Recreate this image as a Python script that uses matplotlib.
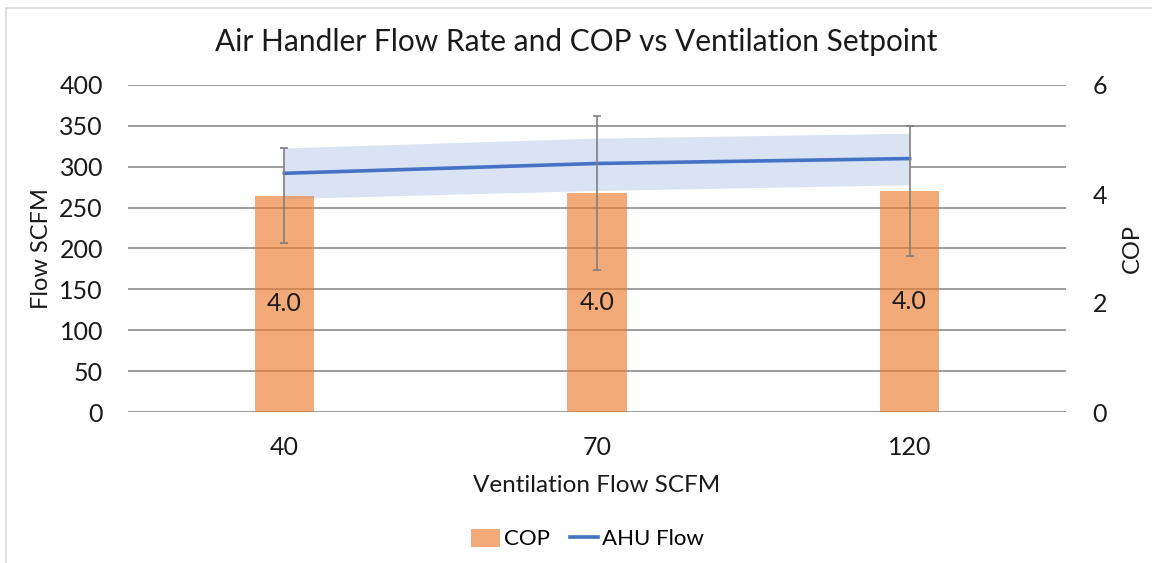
import matplotlib
matplotlib.use("Agg")
import matplotlib.pyplot as plt
import numpy as np
from matplotlib.patches import Rectangle

categories = ["40", "70", "120"]
cop_values = [3.97, 4.02, 4.05]
cop_err = [0.87, 1.42, 1.19]
cop_labels = ["4.0", "4.0", "4.0"]
ahu_flow = [292, 304, 310]
ahu_low = [261, 271, 278]
ahu_high = [323, 335, 341]

plt.rcParams['font.family'] = ['Lato', 'DejaVu Sans']

fig = plt.figure(figsize=(11.52, 5.63), dpi=100)
fig.patches.append(Rectangle((6/1152, -0.01), 1.0, 1.01 - 8/563, transform=fig.transFigure,
                             fill=False, edgecolor='#d9d9d9', linewidth=1.2, zorder=0))
ax = fig.add_axes([128/1152, (563-412)/563, 938/1152, 327/563])
ax2 = ax.twinx()

x = np.arange(len(categories))
ax.fill_between(x, ahu_low, ahu_high, color='#dae3f3', linewidth=0, zorder=2)
ax.plot(x, ahu_flow, color='#4472c4', linewidth=2.6, zorder=3, label='AHU Flow')

bars = ax2.bar(x, cop_values, width=0.19, color='#ed7d31', alpha=0.65, linewidth=0,
               zorder=2, label='COP')
ax2.errorbar(x, cop_values, yerr=cop_err, fmt='none', ecolor='#7f7f7f', elinewidth=1.2,
             capsize=3, capthick=1.2, zorder=4)
for xi, v, lab in zip(x, cop_values, cop_labels):
    ax2.text(xi, v / 2, lab, ha='center', va='center', fontsize=18, color='#1a1a1a', zorder=5)

ax.set_xlim(-0.5, 2.5)
ax.set_ylim(0, 400)
ax.set_yticks(np.arange(0, 401, 50))
ax2.set_ylim(0, 6)
ax2.set_yticks([0, 2, 4, 6])
ax.set_xticks(x)
ax.set_xticklabels(categories)
ax.grid(axis='y', color='#8c8c8c', linewidth=1.2, zorder=0)
ax.set_axisbelow(True)
for a in (ax, ax2):
    for s in a.spines.values():
        s.set_visible(False)
    a.tick_params(length=0, labelsize=18, colors='#1a1a1a')
ax.tick_params(axis='y', pad=18)
ax.tick_params(axis='x', pad=17)
ax2.tick_params(axis='y', pad=19)

ax.set_ylabel('Flow SCFM', fontsize=17, color='#1a1a1a', labelpad=5)
ax2.set_ylabel('COP', fontsize=17, color='#1a1a1a', labelpad=11)
ax.set_xlabel('Ventilation Flow SCFM', fontsize=17.5, color='#1a1a1a', labelpad=12)
fig.text(0.5, 1 - 42/563, 'Air Handler Flow Rate and COP vs Ventilation Setpoint',
         ha='center', va='center', fontsize=21.5, color='#1a1a1a')

h1, l1 = ax2.get_legend_handles_labels()
h2, l2 = ax.get_legend_handles_labels()
fig.legend(h1 + h2, l1 + l2, loc='center', bbox_to_anchor=(0.51, 1 - 539/563), ncol=2,
           frameon=False, fontsize=16, handlelength=1.3, handleheight=0.9,
           handletextpad=0.15, columnspacing=0.9)

fig.savefig('out.png', dpi=100)
